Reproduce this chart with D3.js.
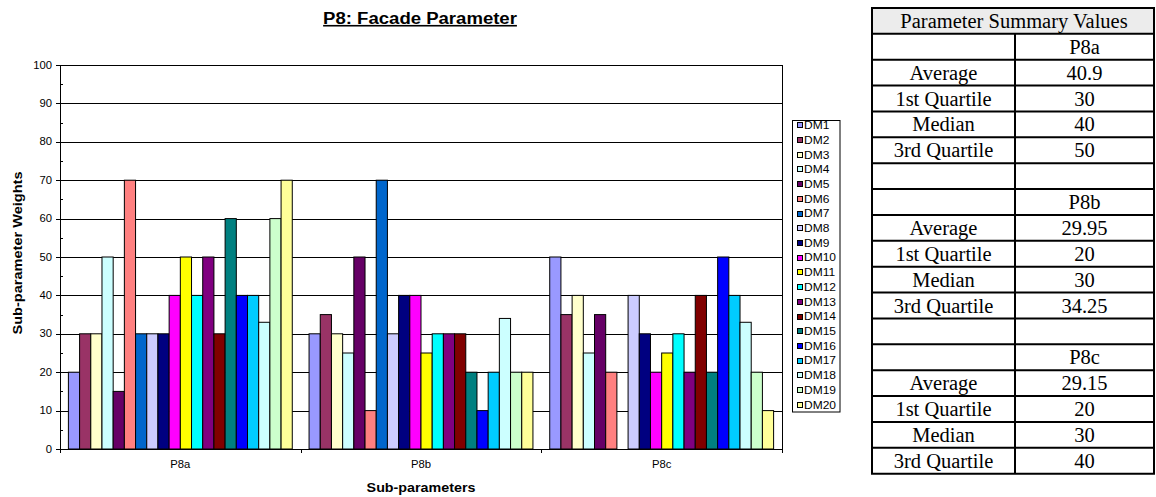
<!DOCTYPE html>
<html>
<head>
<meta charset="utf-8">
<script src="https://cdn.jsdelivr.net/npm/d3@7/dist/d3.min.js"></script>
<style>
  html, body { margin: 0; padding: 0; background: #fff; }
  svg { display: block; }
</style>
</head>
<body>
<svg id="chart" width="1156" height="497"></svg>
<script>
// ---------- DATA ----------
const categories = ["P8a", "P8b", "P8c"];
const seriesNames = ["DM1","DM2","DM3","DM4","DM5","DM6","DM7","DM8","DM9","DM10",
                     "DM11","DM12","DM13","DM14","DM15","DM16","DM17","DM18","DM19","DM20"];
const valuesP8a = [20, 30, 30, 50, 15, 70, 30, 30, 30, 40, 50, 40, 50, 30, 60, 40, 40, 33, 60, 70];
const valuesP8b = [30, 35, 30, 25, 50, 10, 70, 30, 40, 40, 25, 30, 30, 30, 20, 10, 20, 34, 20, 20];
const valuesP8c = [50, 35, 40, 25, 35, 20, 0, 40, 30, 20, 25, 30, 20, 40, 20, 50, 40, 33, 20, 10];
const seriesColors = ["#9999FF","#993366","#FFFFCC","#CCFFFF","#660066","#FF8080","#0066CC","#CCCCFF",
                      "#000080","#FF00FF","#FFFF00","#00FFFF","#800080","#800000","#008080","#0000FF",
                      "#00CCFF","#CCFFFF","#CCFFCC","#FFFF99"];
const yTicks = [0, 10, 20, 30, 40, 50, 60, 70, 80, 90, 100];
const chartTitle = "P8: Facade Parameter";
const yTitle = "Sub-parameter Weights";
const xTitle = "Sub-parameters";

const tableTitle = "Parameter Summary Values";
const statLabels = ["Average", "1st Quartile", "Median", "3rd Quartile"];
const statsP8a = ["40.9", "30", "40", "50"];
const statsP8b = ["29.95", "20", "30", "34.25"];
const statsP8c = ["29.15", "20", "30", "40"];

const valuesByCat = { P8a: valuesP8a, P8b: valuesP8b, P8c: valuesP8c };
const statsByCat = { P8a: statsP8a, P8b: statsP8b, P8c: statsP8c };

// ---------- LAYOUT ----------
const svg = d3.select("#chart");
const plot = { left: 60, right: 782, top: 65, bottom: 449 };
const SX = 1.13; // horizontal stretch of chart text

const x0 = d3.scaleBand().domain(categories).range([plot.left, plot.right]).padding(0);
const x1 = d3.scaleBand().domain(seriesNames).range([0, x0.bandwidth()])
  .paddingInner(0).paddingOuter(0.75);
const y = d3.scaleLinear().domain([0, 100]).range([plot.bottom, plot.top]);
const color = d3.scaleOrdinal().domain(seriesNames).range(seriesColors);

function stext(g, x, yy, str, opts) {
  const t = g.append("text")
    .attr("transform", `translate(${x},${yy}) scale(${opts.sx || SX},1)`)
    .attr("text-anchor", opts.anchor || "middle")
    .attr("font-family", "Arial, 'Liberation Sans', sans-serif")
    .attr("font-size", opts.size)
    .attr("font-weight", opts.weight || "normal")
    .attr("fill", "#000")
    .text(str);
  if (opts.underline) t.attr("text-decoration", "underline");
  return t;
}

// gridlines
const grid = svg.append("g");
grid.selectAll("line").data(yTicks.filter(d => d > 0)).join("line")
  .attr("x1", plot.left).attr("x2", plot.right)
  .attr("y1", d => Math.round(y(d)) + 0.5).attr("y2", d => Math.round(y(d)) + 0.5)
  .attr("stroke", "#000").attr("stroke-width", 1);
// right border
svg.append("line")
  .attr("x1", plot.right + 0.5).attr("x2", plot.right + 0.5)
  .attr("y1", plot.top).attr("y2", plot.bottom)
  .attr("stroke", "#000");

// bars
const groups = svg.append("g").selectAll("g").data(categories).join("g")
  .attr("transform", d => `translate(${x0(d)},0)`);
groups.selectAll("rect")
  .data(c => seriesNames.map((s, i) => ({ s, v: valuesByCat[c][i] })).filter(d => d.v > 0))
  .join("rect")
  .attr("x", d => x1(d.s))
  .attr("width", x1.bandwidth())
  .attr("y", d => y(d.v))
  .attr("height", d => y(0) - y(d.v))
  .attr("fill", d => color(d.s))
  .attr("stroke", "#000")
  .attr("stroke-width", 1);

// y axis
const yAxisG = svg.append("g");
yAxisG.append("line")
  .attr("x1", plot.left + 0.5).attr("x2", plot.left + 0.5)
  .attr("y1", plot.top).attr("y2", plot.bottom + 1)
  .attr("stroke", "#000");
yAxisG.selectAll("line.major").data(yTicks).join("line").attr("class", "major")
  .attr("x1", plot.left - 4).attr("x2", plot.left)
  .attr("y1", d => Math.round(y(d)) + 0.5).attr("y2", d => Math.round(y(d)) + 0.5)
  .attr("stroke", "#000");
yAxisG.selectAll("line.minor").data(yTicks.slice(0, -1)).join("line").attr("class", "minor")
  .attr("x1", plot.left).attr("x2", plot.left + 3)
  .attr("y1", d => Math.round(y(d + 5)) + 0.5).attr("y2", d => Math.round(y(d + 5)) + 0.5)
  .attr("stroke", "#000");
yTicks.forEach(d => stext(yAxisG, 52, y(d) + 3.6, String(d), { size: 10, anchor: "end" }));

// x axis
const xAxisG = svg.append("g");
xAxisG.append("line")
  .attr("x1", plot.left).attr("x2", plot.right + 1)
  .attr("y1", plot.bottom + 0.5).attr("y2", plot.bottom + 0.5)
  .attr("stroke", "#000");
const bounds = categories.map(c => x0(c)).concat([plot.right]);
xAxisG.selectAll("line.tick").data(bounds).join("line").attr("class", "tick")
  .attr("x1", d => Math.round(d) + 0.5).attr("x2", d => Math.round(d) + 0.5)
  .attr("y1", plot.bottom).attr("y2", plot.bottom + 4)
  .attr("stroke", "#000");
categories.forEach(c => stext(xAxisG, x0(c) + x0.bandwidth() / 2, 468, c, { size: 10 }));

// titles
stext(svg, (plot.left + plot.right) / 2 - 1, 24, chartTitle, { size: 16, weight: "bold", underline: true, sx: 1.16 });
stext(svg, (plot.left + plot.right) / 2, 492, xTitle, { size: 13, weight: "bold", sx: 1.1 });
svg.append("text")
  .attr("transform", `translate(21.5,253) rotate(-90)`)
  .attr("text-anchor", "middle")
  .attr("font-family", "Arial, 'Liberation Sans', sans-serif")
  .attr("font-size", 13.5)
  .attr("font-weight", "bold")
  .attr("textLength", 163)
  .attr("lengthAdjust", "spacingAndGlyphs")
  .text(yTitle);

// legend
const leg = svg.append("g");
leg.append("rect").attr("x", 792.5).attr("y", 120.5).attr("width", 47.5).attr("height", 291.5)
  .attr("fill", "#fff").attr("stroke", "#000");
const legY = d3.scalePoint().domain(seriesNames).range([125.3, 404.8]);
seriesNames.forEach(s => {
  leg.append("rect")
    .attr("x", 797.5).attr("y", Math.round(legY(s) - 3) + 0.5)
    .attr("width", 5).attr("height", 5)
    .attr("fill", color(s)).attr("stroke", "#000");
  stext(leg, 804, legY(s) + 3.8, s, { size: 10, anchor: "start", sx: 1.2 });
});

// ---------- TABLE ----------
const tbl = svg.append("g");
const tL = 872, tR = 1154, tMid = 1015, tTop = 8, tBot = 473.7;
const rows = [];
rows.push({ type: "title" });
categories.forEach((c, ci) => {
  rows.push({ a: "", b: c });
  statLabels.forEach((l, i) => rows.push({ a: l, b: statsByCat[c][i] }));
  if (ci < categories.length - 1) rows.push({ a: "", b: "" });
});
const rowY = d3.scaleLinear().domain([0, rows.length]).range([tTop, tBot]);

tbl.append("rect").attr("x", tL).attr("y", rowY(0)).attr("width", tR - tL)
  .attr("height", rowY(1) - rowY(0)).attr("fill", "#ECECEC");
// horizontal lines
d3.range(rows.length + 1).forEach(i => {
  tbl.append("line").attr("x1", tL - 1).attr("x2", tR + 1)
    .attr("y1", rowY(i)).attr("y2", rowY(i))
    .attr("stroke", "#000").attr("stroke-width", 2);
});
// vertical lines
[tL, tR].forEach(xx => tbl.append("line").attr("x1", xx).attr("x2", xx)
  .attr("y1", rowY(0)).attr("y2", rowY(rows.length)).attr("stroke", "#000").attr("stroke-width", 2));
tbl.append("line").attr("x1", tMid).attr("x2", tMid)
  .attr("y1", rowY(1)).attr("y2", rowY(rows.length)).attr("stroke", "#000").attr("stroke-width", 2);

function ttext(x, yy, s) {
  tbl.append("text").attr("x", x).attr("y", yy)
    .attr("text-anchor", "middle")
    .attr("font-family", "'Liberation Serif', 'Times New Roman', serif")
    .attr("font-size", 20.5)
    .attr("fill", "#000")
    .text(s);
}
rows.forEach((r, i) => {
  const cy = (rowY(i) + rowY(i + 1)) / 2 + 7;
  if (r.type === "title") ttext(1014, cy, tableTitle);
  else {
    if (r.a) ttext((tL + tMid) / 2, cy, r.a);
    if (r.b) ttext((tMid + tR) / 2, cy, r.b);
  }
});
</script>
</body>
</html>
